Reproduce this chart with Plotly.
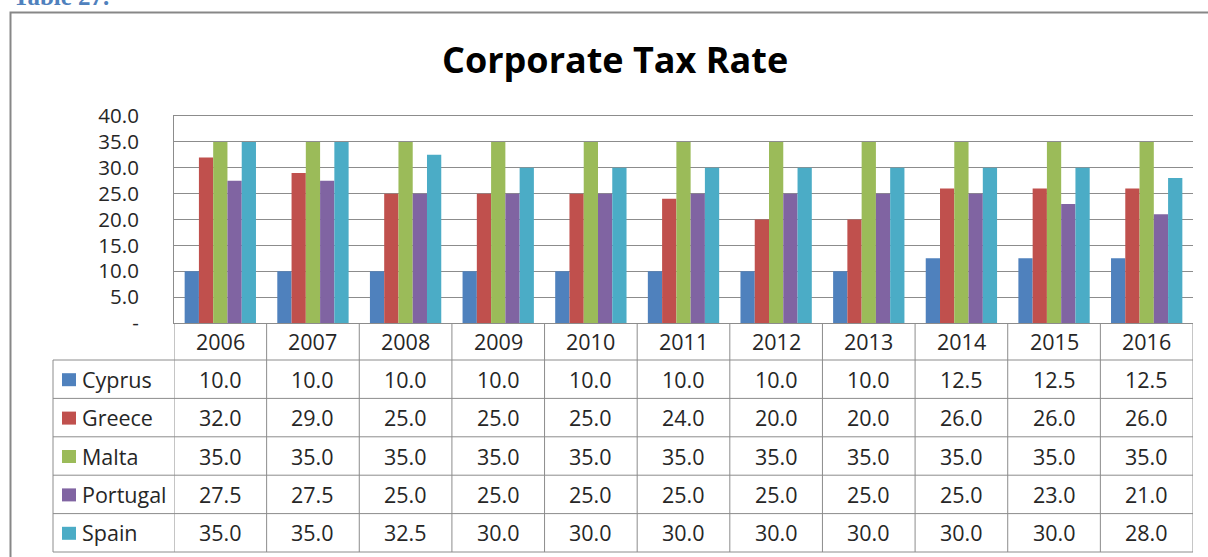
import plotly.graph_objects as go

years = ["2006", "2007", "2008", "2009", "2010", "2011", "2012", "2013", "2014", "2015", "2016"]
cyprus = [10.0, 10.0, 10.0, 10.0, 10.0, 10.0, 10.0, 10.0, 12.5, 12.5, 12.5]
greece = [32.0, 29.0, 25.0, 25.0, 25.0, 24.0, 20.0, 20.0, 26.0, 26.0, 26.0]
malta = [35.0, 35.0, 35.0, 35.0, 35.0, 35.0, 35.0, 35.0, 35.0, 35.0, 35.0]
portugal = [27.5, 27.5, 25.0, 25.0, 25.0, 25.0, 25.0, 25.0, 25.0, 23.0, 21.0]
spain = [35.0, 35.0, 32.5, 30.0, 30.0, 30.0, 30.0, 30.0, 30.0, 30.0, 28.0]

series = [
    ("Cyprus", cyprus, "#4f81bd"),
    ("Greece", greece, "#c0504d"),
    ("Malta", malta, "#9bbb59"),
    ("Portugal", portugal, "#8064a2"),
    ("Spain", spain, "#4bacc6"),
]

y_ticks = [0, 5, 10, 15, 20, 25, 30, 35, 40]
y_ticktext = ["-" if v == 0 else f"{v:.1f}" for v in y_ticks]

W, H = 1208, 557
FONT = "'Open Sans', sans-serif"
GRID = "#8c8c8c"
TEXT = "#262626"


def px(x):
    return x / W


def py(y):
    return 1 - y / H


# pixel layout of the plot area and the data table underneath it
PLOT_L, PLOT_R, PLOT_T, PLOT_B = 174, 1193, 116, 323
HEAD_B = 360
ROW_H = 38.4
LABEL_L = 53

fig = go.Figure()
for name, vals, color in series:
    fig.add_trace(go.Bar(x=years, y=vals, name=name, marker=dict(color=color, line=dict(width=0))))

shapes = []
annotations = []

# vertical table lines on category boundaries
table_bottom = HEAD_B + ROW_H * len(series)
for i in range(len(years) + 1):
    shapes.append(dict(type="line", xref="x", yref="paper", x0=i - 0.5, x1=i - 0.5,
                       y0=py(table_bottom), y1=py(PLOT_B), line=dict(color=GRID, width=1)))
# left label column border
shapes.append(dict(type="line", xref="paper", yref="paper", x0=px(LABEL_L), x1=px(LABEL_L),
                   y0=py(table_bottom), y1=py(HEAD_B), line=dict(color=GRID, width=1)))
# horizontal row lines
for r in range(len(series) + 1):
    yy = py(HEAD_B + r * ROW_H)
    shapes.append(dict(type="line", xref="paper", yref="paper", x0=px(LABEL_L), x1=px(PLOT_R),
                       y0=yy, y1=yy, line=dict(color=GRID, width=1)))

# outer chart border
shapes.append(dict(type="rect", xref="paper", yref="paper", x0=px(10.5), x1=px(1215),
                   y0=py(570), y1=py(12.5), line=dict(color="#878787", width=2)))

cell_font = dict(family=FONT, size=21.5, color=TEXT)

# header years (category index on the x axis)
for i, yr in enumerate(years):
    annotations.append(dict(x=i, xref="x", y=py((PLOT_B + HEAD_B) / 2), yref="paper", yanchor="middle",
                            text=yr, showarrow=False, font=cell_font))

# table rows: legend key, name, values
for r, (name, vals, color) in enumerate(series):
    mid = HEAD_B + (r + 0.5) * ROW_H
    yc = py(mid)
    shapes.append(dict(type="rect", xref="paper", yref="paper", x0=px(62), x1=px(76),
                       y0=py(mid + 7), y1=py(mid - 6), fillcolor=color, line=dict(width=0)))
    annotations.append(dict(x=px(80), xref="paper", xanchor="left", y=yc, yref="paper", yanchor="middle",
                            text=name, showarrow=False, font=cell_font))
    for i, v in enumerate(vals):
        annotations.append(dict(x=i, xref="x", y=yc, yref="paper", yanchor="middle", text=f"{v:.1f}",
                                showarrow=False, font=cell_font))

# title
annotations.append(dict(x=px(615), xref="paper", y=py(60), yref="paper", yanchor="middle",
                        text="<b>Corporate Tax Rate</b>", showarrow=False,
                        font=dict(family=FONT, size=36, color="#000000")))
# caption cut at the top edge, as in the source page
annotations.append(dict(x=px(11), xref="paper", xanchor="left", y=py(-4), yref="paper", yanchor="middle",
                        text="<b>Table 27.</b>", showarrow=False,
                        font=dict(family="'Liberation Serif', serif", size=25, color="#4f81bd")))

fig.update_layout(
    width=W,
    height=H,
    margin=dict(l=0, r=0, t=0, b=0, autoexpand=False),
    paper_bgcolor="white",
    plot_bgcolor="white",
    showlegend=False,
    barmode="group",
    bargap=0.23,
    bargroupgap=0,
    xaxis=dict(domain=[px(PLOT_L), px(PLOT_R)], type="category", range=[-0.5, len(years) - 0.5],
               showticklabels=False, showgrid=False, showline=True, mirror=True,
               linecolor=GRID, linewidth=1, ticks=""),
    yaxis=dict(domain=[py(PLOT_B), py(PLOT_T)], range=[0, 40], tickvals=y_ticks, ticktext=y_ticktext,
               showgrid=True, gridcolor=GRID, gridwidth=1, zeroline=False, showline=True,
               linecolor=GRID, linewidth=1, ticks="", ticklabelstandoff=30,
               tickfont=dict(family=FONT, size=20.5, color=TEXT)),
    shapes=shapes,
    annotations=annotations,
)

fig.write_html("out.html", config={"displayModeBar": False},
               post_script="document.body.style.margin='0px';")
